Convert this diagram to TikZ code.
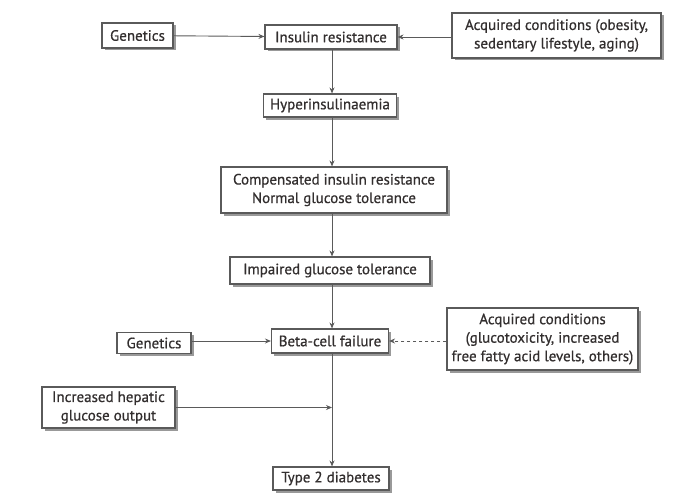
\documentclass[tikz,border=0pt]{standalone}
\usepackage{fontspec}
\setmainfont{PT Sans}
\newfontfamily\boxfont[FakeBold=0.6]{PT Sans}
\usepackage{xcolor}
\usepackage{tikz}
\usetikzlibrary{arrows, arrows.meta, positioning, shadows}

\definecolor{inkgray}{RGB}{50,46,46}
\definecolor{edgegray}{RGB}{90,90,90}

\begin{document}
\begin{tikzpicture}[
    x=1pt, y=-1pt,
    box/.style={rectangle, draw=edgegray, fill=white, line width=1.1pt, text=inkgray, align=center, inner sep=0pt,
        font=\boxfont\fontsize{15}{18.5}\selectfont,
        drop shadow={shadow xshift=2.5pt, shadow yshift=-2.5pt, fill=black!40, opacity=1}},
    arrow/.style={-{Stealth[length=6pt, width=5pt]}, draw=edgegray, line width=0.9pt}
]
\useasboundingbox (0,0) rectangle (690,503);
\coordinate (spine) at (332,0);

\node[box, minimum width=71pt, minimum height=25pt] (gen1) at (137.5,35.5) {Genetics};
\node[box, minimum width=132pt, minimum height=24pt] (ir) at (331,37) {Insulin resistance};
\node[box, minimum width=209pt, minimum height=45pt] (acq1) at (556.5,35.5) {Acquired conditions (obesity,\\ sedentary lifestyle, aging)};
\node[box, minimum width=133pt, minimum height=23pt] (hyper) at (330,105.5) {Hyperinsulinaemia};
\node[box, minimum width=226pt, minimum height=46pt] (comp) at (334,190) {Compensated insulin resistance\\ Normal glucose tolerance};
\node[box, minimum width=200pt, minimum height=27pt] (imp) at (330,270.5) {Impaired glucose tolerance};
\node[box, minimum width=117pt, minimum height=24pt] (beta) at (330,341) {Beta-cell failure};
\node[box, minimum width=74pt, minimum height=21pt] (gen2) at (154,343) {Genetics};
\node[box, minimum width=191pt, minimum height=62pt] (acq2) at (542.5,339) {Acquired conditions\\ (glucotoxicity, increased\\ free fatty acid levels, others)};
\node[box, minimum width=133pt, minimum height=41pt] (hep) at (108.5,407.5) {Increased hepatic\\ glucose output};
\node[box, minimum width=116pt, minimum height=23pt] (t2) at (331,478.5) {Type 2 diabetes};

\draw[arrow] (gen1) -- (ir);
\draw[arrow] (acq1.west |- ir.east) -- (ir.east);
\draw[arrow] (spine |- ir.south) -- (spine |- hyper.north);
\draw[arrow] (spine |- hyper.south) -- (spine |- comp.north);
\draw[arrow] (spine |- comp.south) -- (spine |- imp.north);
\draw[arrow] (spine |- imp.south) -- (spine |- beta.north);
\draw[arrow] (gen2.east |- beta.west) -- (beta.west);
\draw[arrow, dashed] (acq2.west |- beta.east) -- (beta.east);
\draw[arrow] (spine |- beta.south) -- (spine |- t2.north);
\draw[arrow] (hep.east) -- (hep.east -| spine);

\end{tikzpicture}
\end{document}
